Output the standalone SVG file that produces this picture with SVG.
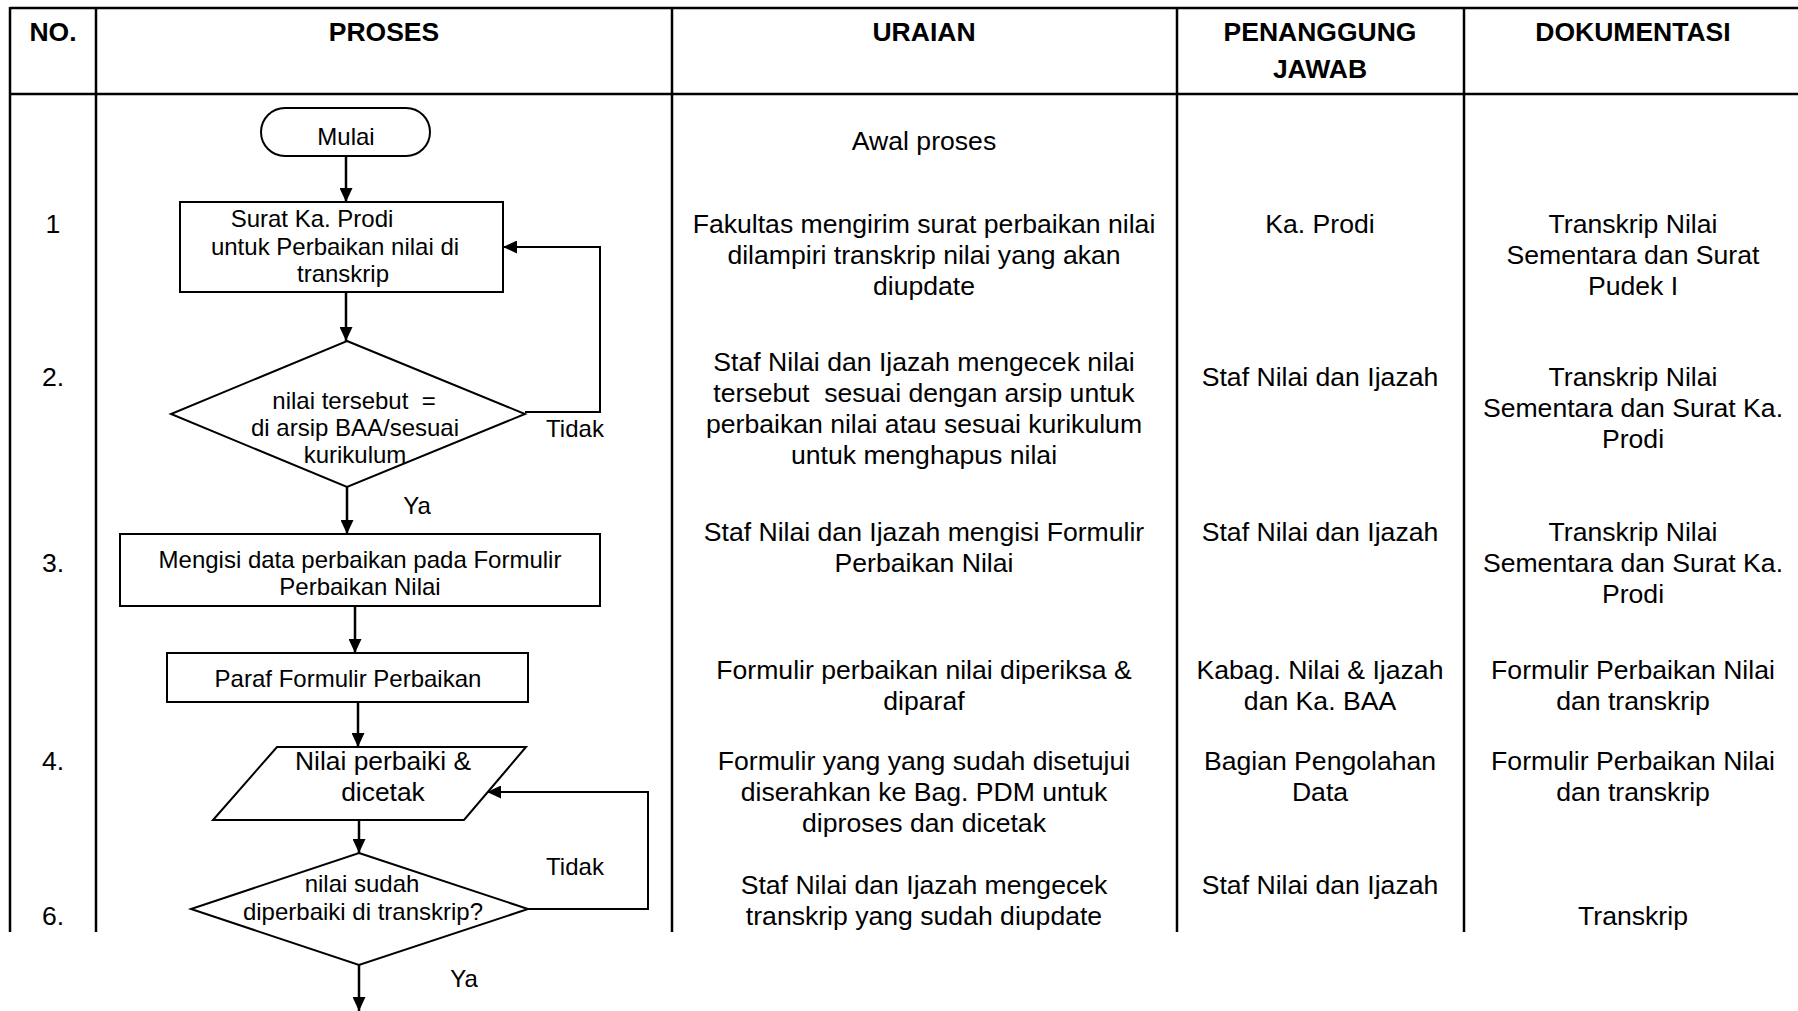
<svg xmlns="http://www.w3.org/2000/svg" width="1798" height="1011" viewBox="0 0 1798 1011">
<style>
  .tbl { stroke: #000; stroke-width: 2.5; fill: none; }
  .hdr { font-family: "Liberation Sans", Arial, sans-serif; font-size: 26.5px; font-weight: bold; text-anchor: middle; fill: #000; }
  .txt { font-family: "Liberation Sans", Arial, sans-serif; font-size: 26.6px; text-anchor: middle; fill: #000; }
  .ft { font-family: "Liberation Sans", Arial, sans-serif; font-size: 24px; text-anchor: middle; fill: #000; }
  .ftb { font-family: "Liberation Sans", Arial, sans-serif; font-size: 26.4px; text-anchor: middle; fill: #000; }
  .lbl { font-family: "Liberation Sans", Arial, sans-serif; font-size: 24px; text-anchor: middle; fill: #000; }
  .shape { fill: #fff; stroke: #000; stroke-width: 2; }
  .conn { fill: none; stroke: #000; stroke-width: 2.5; }
  .loop { fill: none; stroke: #000; stroke-width: 2; }
</style>
<defs>
  <marker id="arrow" markerUnits="userSpaceOnUse" markerWidth="14" markerHeight="13" refX="14" refY="6.5" orient="auto">
    <path d="M0,0 L14,6.5 L0,13 z" fill="#000"/>
  </marker>
</defs>
<rect x="0" y="0" width="1798" height="1011" fill="#fff"/>

<!-- table -->
<g id="table">
  <line class="tbl" x1="10" y1="8" x2="1798" y2="8"/>
  <line class="tbl" x1="10" y1="94" x2="1798" y2="94"/>
  <line class="tbl" x1="10" y1="7" x2="10" y2="932"/>
  <line class="tbl" x1="96" y1="7" x2="96" y2="932"/>
  <line class="tbl" x1="672" y1="7" x2="672" y2="932"/>
  <line class="tbl" x1="1177" y1="7" x2="1177" y2="932"/>
  <line class="tbl" x1="1464" y1="7" x2="1464" y2="932"/>
  <text class="hdr" x="53" y="41">NO.</text>
  <text class="hdr" x="384" y="41">PROSES</text>
  <text class="hdr" x="924" y="41">URAIAN</text>
  <text class="hdr" x="1320" y="41">PENANGGUNG</text>
  <text class="hdr" x="1320" y="78">JAWAB</text>
  <text class="hdr" x="1633" y="41">DOKUMENTASI</text>
</g>

<g id="numbers">
  <text class="txt" x="53" y="233">1</text>
  <text class="txt" x="53" y="386">2.</text>
  <text class="txt" x="53" y="572">3.</text>
  <text class="txt" x="53" y="770">4.</text>
  <text class="txt" x="53" y="925">6.</text>
</g>

<g id="uraian">
  <text class="txt" x="924" y="150">Awal proses</text>
  <text class="txt" x="924" y="233">Fakultas mengirim surat perbaikan nilai</text>
  <text class="txt" x="924" y="264">dilampiri transkrip nilai yang akan</text>
  <text class="txt" x="924" y="295">diupdate</text>
  <text class="txt" x="924" y="371">Staf Nilai dan Ijazah mengecek nilai</text>
  <text class="txt" x="924" y="402" xml:space="preserve">tersebut  sesuai dengan arsip untuk</text>
  <text class="txt" x="924" y="433">perbaikan nilai atau sesuai kurikulum</text>
  <text class="txt" x="924" y="464">untuk menghapus nilai</text>
  <text class="txt" x="924" y="541">Staf Nilai dan Ijazah mengisi Formulir</text>
  <text class="txt" x="924" y="572">Perbaikan Nilai</text>
  <text class="txt" x="924" y="679">Formulir perbaikan nilai diperiksa &amp;</text>
  <text class="txt" x="924" y="710">diparaf</text>
  <text class="txt" x="924" y="770">Formulir yang yang sudah disetujui</text>
  <text class="txt" x="924" y="801">diserahkan ke Bag. PDM untuk</text>
  <text class="txt" x="924" y="832">diproses dan dicetak</text>
  <text class="txt" x="924" y="894">Staf Nilai dan Ijazah mengecek</text>
  <text class="txt" x="924" y="925">transkrip yang sudah diupdate</text>
</g>

<g id="penanggung">
  <text class="txt" x="1320" y="233">Ka. Prodi</text>
  <text class="txt" x="1320" y="386">Staf Nilai dan Ijazah</text>
  <text class="txt" x="1320" y="541">Staf Nilai dan Ijazah</text>
  <text class="txt" x="1320" y="679">Kabag. Nilai &amp; Ijazah</text>
  <text class="txt" x="1320" y="710">dan Ka. BAA</text>
  <text class="txt" x="1320" y="770">Bagian Pengolahan</text>
  <text class="txt" x="1320" y="801">Data</text>
  <text class="txt" x="1320" y="894">Staf Nilai dan Ijazah</text>
</g>

<g id="dokumentasi">
  <text class="txt" x="1633" y="233">Transkrip Nilai</text>
  <text class="txt" x="1633" y="264">Sementara dan Surat</text>
  <text class="txt" x="1633" y="295">Pudek I</text>
  <text class="txt" x="1633" y="386">Transkrip Nilai</text>
  <text class="txt" x="1633" y="417">Sementara dan Surat Ka.</text>
  <text class="txt" x="1633" y="448">Prodi</text>
  <text class="txt" x="1633" y="541">Transkrip Nilai</text>
  <text class="txt" x="1633" y="572">Sementara dan Surat Ka.</text>
  <text class="txt" x="1633" y="603">Prodi</text>
  <text class="txt" x="1633" y="679">Formulir Perbaikan Nilai</text>
  <text class="txt" x="1633" y="710">dan transkrip</text>
  <text class="txt" x="1633" y="770">Formulir Perbaikan Nilai</text>
  <text class="txt" x="1633" y="801">dan transkrip</text>
  <text class="txt" x="1633" y="925">Transkrip</text>
</g>

<!-- connectors -->
<g id="connectors">
  <line class="conn" x1="346" y1="156" x2="346" y2="202" marker-end="url(#arrow)"/>
  <line class="conn" x1="346" y1="292" x2="346" y2="341" marker-end="url(#arrow)"/>
  <polyline class="loop" points="525,412 600,412 600,247 503,247" marker-end="url(#arrow)"/>
  <line class="conn" x1="347" y1="487" x2="347" y2="534" marker-end="url(#arrow)"/>
  <line class="conn" x1="355" y1="606" x2="355" y2="653" marker-end="url(#arrow)"/>
  <line class="conn" x1="358" y1="702" x2="358" y2="747" marker-end="url(#arrow)"/>
  <line class="conn" x1="359" y1="820" x2="359" y2="853" marker-end="url(#arrow)"/>
  <polyline class="loop" points="528,909 648,909 648,792 487,792" marker-end="url(#arrow)"/>
  <line class="conn" x1="359" y1="965" x2="359" y2="1011" marker-end="url(#arrow)"/>
  <text class="lbl" x="575" y="437">Tidak</text>
  <text class="lbl" x="417" y="514">Ya</text>
  <text class="lbl" x="575" y="875">Tidak</text>
  <text class="lbl" x="464" y="987">Ya</text>
</g>

<g id="mulai">
  <rect class="shape" x="261" y="108" width="169" height="48" rx="24" ry="24"/>
  <text class="ft" x="346" y="145">Mulai</text>
</g>

<g id="surat">
  <rect class="shape" x="180" y="202" width="323" height="90"/>
  <text class="ft" x="312" y="227">Surat Ka. Prodi</text>
  <text class="ft" x="335" y="255">untuk Perbaikan nilai di</text>
  <text class="ft" x="343" y="282">transkrip</text>
</g>

<g id="cek1">
  <polygon class="shape" points="347,341 525,414 347,487 171,414"/>
  <text class="ft" x="354" y="409" xml:space="preserve">nilai tersebut  =</text>
  <text class="ft" x="355" y="436">di arsip BAA/sesuai</text>
  <text class="ft" x="355" y="463">kurikulum</text>
</g>

<g id="mengisi">
  <rect class="shape" x="120" y="534" width="480" height="72"/>
  <text class="ft" x="360" y="568">Mengisi data perbaikan pada Formulir</text>
  <text class="ft" x="360" y="595">Perbaikan Nilai</text>
</g>

<g id="paraf">
  <rect class="shape" x="167" y="653" width="361" height="49"/>
  <text class="ft" x="348" y="687">Paraf Formulir Perbaikan</text>
</g>

<g id="cetak">
  <polygon class="shape" points="277,747 526,747 464,820 213,820"/>
  <text class="ftb" x="383" y="770">Nilai perbaiki &amp;</text>
  <text class="ftb" x="383" y="801">dicetak</text>
</g>

<g id="cek2">
  <polygon class="shape" points="359,853 528,909 359,965 191,909"/>
  <text class="ft" x="362" y="892">nilai sudah</text>
  <text class="ft" x="363" y="920">diperbaiki di transkrip?</text>
</g>
</svg>
